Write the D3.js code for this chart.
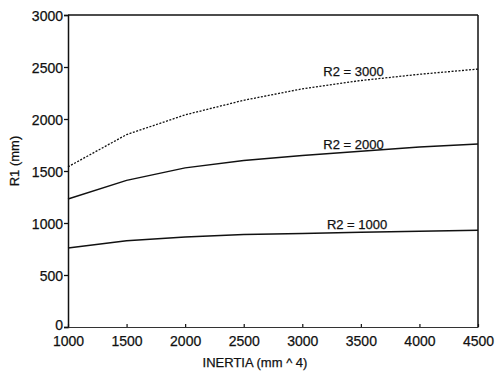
<!doctype html>
<html>
<head>
<meta charset="utf-8">
<script src="https://d3js.org/d3.v7.min.js"></script>
<style>
  body { margin: 0; background: #fff; }
  svg text { font-family: "Liberation Sans", Arial, sans-serif; fill: #111; stroke: #111; stroke-width: 0.25px; }
</style>
</head>
<body>
<div id="chart"></div>
<script>
// data
var inertia = [1000, 1500, 2000, 2500, 3000, 3500, 4000, 4500];
var r2_1000 = [760, 830, 865, 890, 900, 910, 920, 930];
var r2_2000 = [1230, 1410, 1530, 1600, 1650, 1690, 1730, 1760];
var r2_3000 = [1540, 1850, 2040, 2180, 2290, 2370, 2430, 2480];
var seriesNames = ["R2 = 1000", "R2 = 2000", "R2 = 3000"];
var xTicks = [1000, 1500, 2000, 2500, 3000, 3500, 4000, 4500];
var yTicks = [0, 500, 1000, 1500, 2000, 2500, 3000];

var W = 495, H = 371;
var margin = {top: 15, right: 17, bottom: 44, left: 68};
var width = W - margin.left - margin.right,
    height = H - margin.top - margin.bottom;

var svg = d3.select("#chart").append("svg")
    .attr("width", W).attr("height", H);
var g = svg.append("g")
    .attr("transform", "translate(" + margin.left + "," + margin.top + ")");

var x = d3.scaleLinear().domain([1000, 4500]).range([0, width]);
var y = d3.scaleLinear().domain([0, 3000]).range([height, 0]);
var fmt = d3.format("d");

// frame
g.append("line").attr("x1", 0).attr("x2", width).attr("y1", 0).attr("y2", 0)
    .attr("stroke", "#111").attr("stroke-width", 1.5);
g.append("line").attr("x1", width).attr("x2", width).attr("y1", 0).attr("y2", height)
    .attr("stroke", "#111").attr("stroke-width", 1.5);

// y axis
var yAxis = g.append("g")
    .call(d3.axisLeft(y).tickValues(yTicks).tickFormat(fmt).tickSize(4).tickPadding(1));
yAxis.select(".domain").attr("stroke", "#111").attr("stroke-width", 1.5);
yAxis.selectAll(".tick line").attr("stroke", "#111").attr("stroke-width", 1.3);
yAxis.selectAll("text").style("font-size", "14px").attr("fill", "#111")
    .attr("dy", function(d) { return d == 0 ? "0.15em" : "0.38em"; });

// x axis (ticks point up into the plot)
var xAxis = g.append("g")
    .attr("transform", "translate(0," + height + ")")
    .call(d3.axisBottom(x).tickValues(xTicks).tickFormat(fmt)
      .tickSizeInner(-3).tickSizeOuter(0).tickPadding(9));
xAxis.select(".domain").attr("stroke", "#333").attr("stroke-width", 1.2);
xAxis.selectAll(".tick line").attr("stroke", "#111").attr("stroke-width", 1.2);
xAxis.selectAll("text").style("font-size", "14px").attr("fill", "#111");

// axis titles
svg.append("text")
    .attr("transform", "translate(19," + (margin.top + height / 2 - 10) + ") rotate(-90)")
    .attr("text-anchor", "middle")
    .style("font-size", "13px")
    .text("R1 (mm)");
svg.append("text")
    .attr("x", 255).attr("y", 367)
    .attr("text-anchor", "middle")
    .style("font-size", "13px")
    .text("INERTIA (mm ^ 4)");

// curves
var line = d3.line()
    .x(function(d) { return x(d.x); })
    .y(function(d) { return y(d.y); });

var series = [r2_1000, r2_2000, r2_3000].map(function(vals, i) {
  return {
    name: seriesNames[i],
    values: inertia.map(function(v, j) { return {x: v, y: vals[j]}; })
  };
});

g.selectAll(".curve")
  .data(series)
  .enter().append("path")
    .attr("class", "curve")
    .attr("fill", "none")
    .attr("stroke", "#111")
    .attr("stroke-width", function(d, i) { return i == 2 ? 1.3 : 1.5; })
    .attr("stroke-dasharray", function(d, i) { return i == 2 ? "2,1.5" : null; })
    .attr("d", function(d) { return line(d.values); });

// curve labels sit just on the line near x = 3500
var labelX = [3210, 3180, 3180];
var labelDy = [-3, -2, -5];
g.selectAll(".lbl")
  .data(series)
  .enter().append("text")
    .attr("class", "lbl")
    .attr("x", function(d, i) { return x(labelX[i]); })
    .attr("y", function(d, i) { return y(d.values[5].y) + labelDy[i]; })
    .style("font-size", "13px")
    .text(function(d) { return d.name; });
</script>
</body>
</html>
